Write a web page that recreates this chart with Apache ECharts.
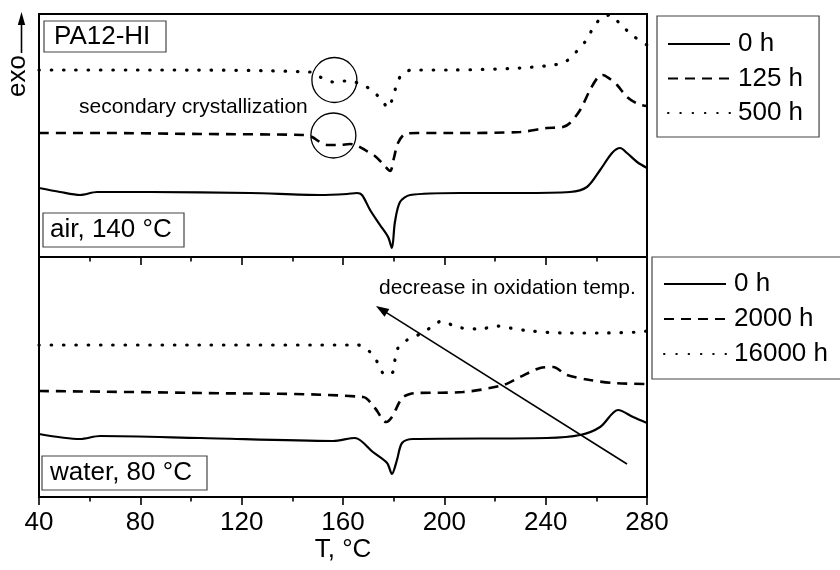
<!DOCTYPE html>
<html>
<head>
<meta charset="utf-8">
<script src="https://cdn.jsdelivr.net/npm/echarts@6/dist/echarts.min.js"></script>
<style>
  html, body { margin: 0; padding: 0; background: #fff; }
  #chart { width: 840px; height: 570px; }
</style>
</head>
<body>
<div id="chart"></div>
<script>
const FONT = '"Liberation Sans", Arial, Helvetica, sans-serif';

// Temperature axis ticks, °C
const tempTicks = [40, 80, 120, 160, 200, 240, 280];

// DSC heating curves, heat flow in arbitrary units (exo up), stacked by offset
// Air ageing at 140 °C
const air0hT   = [40, 48.3, 56.2, 62.9, 83.8, 123.3, 150.9, 161.6, 165.5, 167.5, 170.7, 174.6, 177.8, 179.3, 180.5, 182.5, 186.5, 206.2, 229.9, 249.6, 256.3, 261.5, 266.2, 269.4, 272.1, 276.1, 280];
const air0hQ   = [6.9, 6.5, 6.2, 6.5, 6.5, 6.4, 6.2, 6.3, 6.4, 6.2, 4.7, 3.2, 2.0, 0.9, 3.5, 5.5, 6.2, 6.4, 6.4, 6.5, 7.0, 8.7, 10.4, 10.9, 10.4, 9.5, 8.9];
const air125hT = [40, 64.1, 103.6, 144.2, 147.8, 150.9, 154.1, 158.8, 162.8, 165.9, 168.7, 172.6, 175.8, 178.6, 180.1, 181.7, 184.5, 189.2, 202.2, 229.9, 240.5, 246.8, 249.6, 253.6, 257.5, 260.7, 262.5, 265.4, 268.2, 272.1, 276.5, 280];
const air125hQ = [12.4, 12.4, 12.3, 12.2, 12.0, 11.5, 11.2, 11.2, 11.3, 11.1, 10.7, 10.1, 9.3, 8.6, 9.9, 11.4, 12.3, 12.4, 12.4, 12.5, 12.9, 13.0, 13.4, 14.7, 16.7, 18.0, 18.2, 17.8, 17.2, 16.0, 15.3, 15.1];
const air500hT = [40, 83.8, 147.0, 150.9, 156.1, 160.8, 164.7, 168.7, 172.6, 175.8, 177.8, 179.7, 181.3, 183.3, 187.2, 202.2, 229.9, 242.9, 247.6, 251.6, 255.5, 258.3, 261.5, 265.4, 269.4, 274.1, 278.5, 280];
const air500hQ = [18.7, 18.7, 18.5, 18.0, 17.5, 17.6, 17.5, 17.1, 16.4, 15.5, 14.9, 16.0, 17.3, 18.3, 18.7, 18.7, 18.9, 19.2, 19.5, 20.4, 21.5, 22.7, 23.8, 24.2, 23.3, 22.2, 21.4, 21.2];

// Water ageing at 80 °C
const water0hT     = [40, 56.2, 64.1, 103.6, 156.1, 164.7, 171.8, 177.4, 179.3, 181.3, 183.3, 187.6, 240.5, 253.6, 261.5, 268.6, 274.5, 280];
const water0hQ     = [6.3, 5.8, 6.1, 5.9, 5.6, 5.9, 4.5, 3.4, 2.3, 3.7, 5.4, 5.8, 5.9, 6.2, 7.0, 8.7, 8.0, 7.4];
const water2000hT  = [40, 103.6, 167.9, 172.6, 177.0, 179.3, 183.3, 186.5, 189.6, 207.4, 223.2, 229.9, 237.8, 242.9, 248.4, 257.5, 266.6, 280];
const water2000hQ  = [10.6, 10.4, 10.0, 8.9, 7.5, 8.0, 9.9, 10.3, 10.4, 10.5, 11.2, 12.0, 12.9, 13.0, 12.2, 11.7, 11.4, 11.3];
const water16000hT = [40, 103.6, 165.9, 170.7, 173.8, 176.6, 179.7, 180.5, 181.7, 185.3, 190.4, 194.3, 199.1, 203.0, 207.0, 214.1, 220.8, 225.9, 233.8, 248.4, 261.4, 277.2, 280];
const water16000hQ = [15.2, 15.2, 15.2, 14.5, 13.4, 12.2, 12.5, 13.7, 14.9, 15.7, 16.3, 16.9, 17.6, 17.2, 16.9, 16.8, 17.1, 16.9, 16.6, 16.4, 16.4, 16.5, 16.6];

const airNames   = ['0 h', '125 h', '500 h'];
const waterNames = ['0 h', '2000 h', '16000 h'];

// Annotation anchors in data units [T, heat flow]
const ringCentres = [[156.6, 17.7], [156.2, 12.15]];
const trendTail = [272.1, 3.3];
const trendHead = [173.0, 19.1];

const zip = (xs, ys) => xs.map((x, i) => [x, ys[i]]);

const STYLES = [
  { type: 'solid', width: 2.2, cap: 'butt' },
  { type: [10, 7], width: 2.6, cap: 'butt' },
  { type: [0.5, 11.8], width: 3.2, cap: 'round' }
];

function curve(name, grid, xs, ys, k) {
  return {
    type: 'line', name: name,
    xAxisIndex: grid, yAxisIndex: grid,
    data: zip(xs, ys),
    smooth: 0.3, symbol: 'none', showSymbol: false, clip: false,
    animation: false,
    lineStyle: Object.assign({ color: '#000' }, STYLES[k]),
    itemStyle: { color: '#000' }
  };
}

const xBase = {
  type: 'value',
  min: tempTicks[0], max: tempTicks[tempTicks.length - 1],
  interval: tempTicks[1] - tempTicks[0],
  axisLine: { show: false },
  axisTick: { show: true, inside: false, length: 8, lineStyle: { color: '#000', width: 1.6 } },
  minorTick: { show: true, splitNumber: 2, length: 4.5, lineStyle: { color: '#000', width: 1.6 } },
  splitLine: { show: false },
  minorSplitLine: { show: false }
};

const legendBase = {
  orient: 'vertical',
  itemWidth: 62, itemHeight: 14,
  borderColor: '#444', borderWidth: 1.2,
  selectedMode: false,
  itemStyle: { opacity: 0 },
  textStyle: { fontFamily: FONT, fontSize: 26, color: '#000', lineHeight: 24, padding: [0, 0, 0, 3] }
};

const option = {
  animation: false,
  backgroundColor: '#fff',
  grid: [
    { left: 39, top: 14, width: 608, height: 243, show: true, borderColor: '#000', borderWidth: 2, backgroundColor: 'transparent' },
    { left: 39, top: 257, width: 608, height: 240, show: true, borderColor: '#000', borderWidth: 2, backgroundColor: 'transparent' }
  ],
  xAxis: [
    Object.assign({}, xBase, { gridIndex: 0, axisLabel: { show: false } }),
    Object.assign({}, xBase, {
      gridIndex: 1,
      axisLabel: { show: true, margin: 13, fontFamily: FONT, fontSize: 26, color: '#000' },
      name: 'T, °C', nameLocation: 'middle', nameGap: 40,
      nameTextStyle: { fontFamily: FONT, fontSize: 26, color: '#000' }
    })
  ],
  yAxis: [
    { type: 'value', gridIndex: 0, min: 0, max: 24.3, show: false },
    { type: 'value', gridIndex: 1, min: 0, max: 24.0, show: false }
  ],
  legend: [
    Object.assign({}, legendBase, {
      left: 657, top: 16, itemGap: 8.5, padding: [15, 16, 11, 10],
      data: airNames
    }),
    Object.assign({}, legendBase, {
      left: 652, top: 257, itemGap: 9, padding: [14, 40, 12, 11],
      data: waterNames
    })
  ],
  series: [
    curve(airNames[0], 0, air0hT, air0hQ, 0),
    curve(airNames[1], 0, air125hT, air125hQ, 1),
    curve(airNames[2], 0, air500hT, air500hQ, 2),
    curve(waterNames[0], 1, water0hT, water0hQ, 0),
    curve(waterNames[1], 1, water2000hT, water2000hQ, 1),
    curve(waterNames[2], 1, water16000hT, water16000hQ, 2)
  ]
};

const chart = echarts.init(document.getElementById('chart'), null, { renderer: 'canvas' });
chart.setOption(option);

// Annotations placed from data coordinates
const toPx = (g, p) => chart.convertToPixel({ gridIndex: g }, p);
const rings = ringCentres.map(p => toPx(0, p));
const tail = toPx(1, trendTail);
const head = toPx(1, trendHead);
const dx = head[0] - tail[0], dy = head[1] - tail[1];
const len = Math.sqrt(dx * dx + dy * dy);
const ux = dx / len, uy = dy / len;
const headLen = 13, headHalf = 4.5;
const base = [head[0] - ux * headLen, head[1] - uy * headLen];
const arrowHead = [
  head,
  [base[0] - uy * headHalf, base[1] + ux * headHalf],
  [base[0] + uy * headHalf, base[1] - ux * headHalf]
];

function boxedLabel(text, x, y, w, h, tx) {
  return [
    { type: 'rect', shape: { x: x, y: y, width: w, height: h }, style: { fill: '#fff', stroke: '#444', lineWidth: 1.2 }, z: 10 },
    { type: 'text', x: tx, y: y + h / 2, style: { text: text, fontFamily: FONT, fontSize: 26, fill: '#000', textAlign: 'left', textVerticalAlign: 'middle' }, z: 11 }
  ];
}

const graphics = [].concat(
  boxedLabel('PA12-HI', 44, 21, 122, 31, 54),
  boxedLabel('air, 140 °C', 43, 213, 141, 34, 50),
  boxedLabel('water, 80 °C', 42, 456, 165, 34, 50),
  [
    // exo direction marker
    { type: 'text', x: 18, y: 76, rotation: Math.PI / 2,
      style: { text: 'exo', fontFamily: FONT, fontSize: 26, fill: '#000', textAlign: 'center', textVerticalAlign: 'middle' } },
    { type: 'line', shape: { x1: 21.5, y1: 53, x2: 21.5, y2: 22 }, style: { stroke: '#000', lineWidth: 1.6 } },
    { type: 'polygon', shape: { points: [[21.5, 12], [17.8, 25], [25.2, 25]] }, style: { fill: '#000' } },

    { type: 'text', x: 79, y: 107,
      style: { text: 'secondary crystallization', fontFamily: FONT, fontSize: 21, fill: '#000', textAlign: 'left', textVerticalAlign: 'middle' } },
    { type: 'text', x: 379, y: 288,
      style: { text: 'decrease in oxidation temp.', fontFamily: FONT, fontSize: 21, fill: '#000', textAlign: 'left', textVerticalAlign: 'middle' } },

    { type: 'circle', shape: { cx: rings[0][0], cy: rings[0][1], r: 22.5 }, style: { fill: 'none', stroke: '#000', lineWidth: 1.3 } },
    { type: 'circle', shape: { cx: rings[1][0], cy: rings[1][1], r: 22.5 }, style: { fill: 'none', stroke: '#000', lineWidth: 1.3 } },

    { type: 'line', shape: { x1: tail[0], y1: tail[1], x2: base[0] + ux * 2, y2: base[1] + uy * 2 }, style: { stroke: '#000', lineWidth: 1.6 } },
    { type: 'polygon', shape: { points: arrowHead }, style: { fill: '#000' } }
  ]
);

chart.setOption({ graphic: graphics });
</script>
</body>
</html>
